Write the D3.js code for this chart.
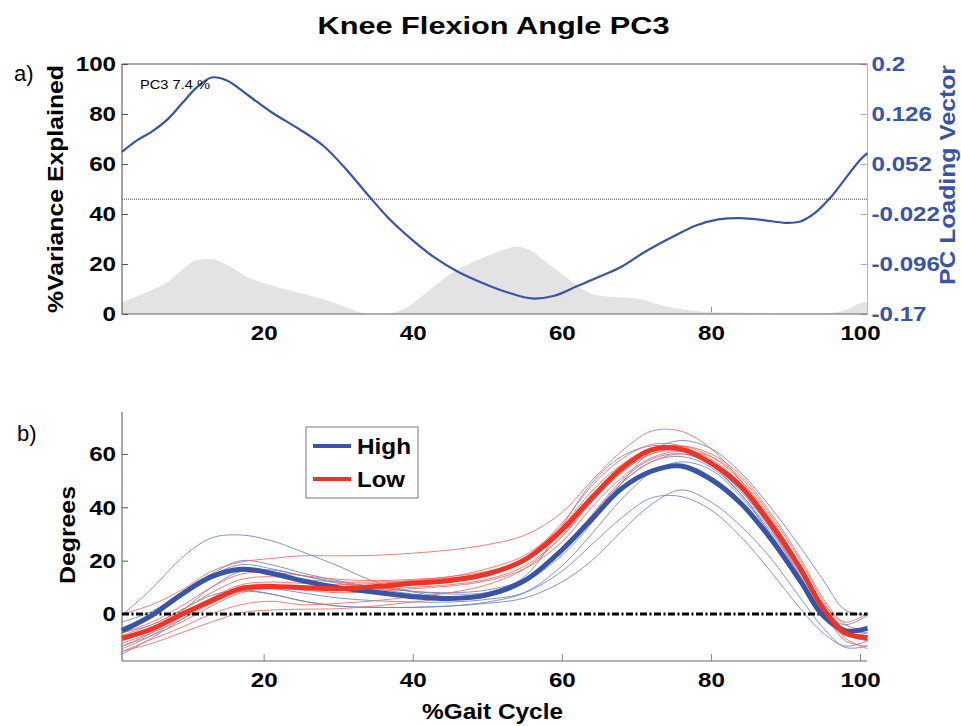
<!DOCTYPE html>
<html>
<head>
<meta charset="utf-8">
<script src="https://cdn.jsdelivr.net/npm/d3@7"></script>
<style>
  body { margin: 0; background: #fff; }
  svg { font-family: Helvetica, Arial, "Liberation Sans", sans-serif; }
  .tick text { font-weight: bold; font-size: 21px; }
</style>
</head>
<body>
<svg id="chart"></svg>
<script>
// ---- data: panel a) ----
const varX = [1, 3, 5, 7, 9, 11, 13, 15, 18, 21, 25, 29, 31, 33, 35, 37, 39, 42, 45, 49, 52, 54, 56, 58, 60, 62, 64, 66, 70, 74, 77, 80, 85, 90, 95, 98, 100, 101];
const varPct = [4.7, 7, 9.6, 12.5, 17.5, 21.5, 22, 19.8, 14.5, 11.5, 8.3, 5, 2.8, 0.6, 0, 0.3, 2.3, 9, 16, 22, 25.5, 27, 25, 20.4, 16, 11.5, 8, 7, 6.2, 3, 1.5, 0.7, 0.5, 0.3, 0.3, 1.5, 4.3, 5];

const loadX = [1, 3, 5, 7, 9, 11, 13, 15, 18, 21, 25, 28, 31, 34, 37, 40, 43, 46, 50, 53, 56, 59, 62, 65, 68, 71, 75, 78, 81, 84, 87, 90, 92, 94, 96, 98, 100, 101];
const loading = [0.070, 0.087, 0.100, 0.117, 0.141, 0.165, 0.180, 0.176, 0.153, 0.129, 0.102, 0.079, 0.045, 0.006, -0.031, -0.061, -0.087, -0.107, -0.127, -0.139, -0.147, -0.143, -0.129, -0.115, -0.100, -0.079, -0.055, -0.039, -0.030, -0.028, -0.031, -0.035, -0.033, -0.020, 0.002, 0.030, 0.058, 0.068];

const varTicks = [0, 20, 40, 60, 80, 100];
const loadTicks = [-0.17, -0.096, -0.022, 0.052, 0.126, 0.2];
const gaitTicks = [20, 40, 60, 80, 100];
const degTicks = [0, 20, 40, 60];

// ---- data: panel b) ----
const gaitX = [1, 5, 9, 13, 17, 21, 25, 30, 35, 40, 45, 50, 55, 60, 64, 68, 72, 76, 80, 84, 88, 92, 95, 98, 101];
const highMean = [-6.3, -0.5, 7.4, 14, 16.8, 15.3, 12.6, 9.9, 8.2, 6.5, 5.8, 7.2, 12.5, 24, 35.5, 47, 53.5, 55.5, 50.5, 41.5, 28.3, 12.3, -0.5, -6.2, -5.4];
const lowMean = [-9.1, -5.6, -0.1, 5, 9.6, 10.3, 9.9, 9.5, 10.3, 11.5, 12.6, 15, 20.3, 31.5, 43.5, 54.5, 61.5, 61.8, 56.5, 47.8, 33.8, 17, 2.3, -7, -8.9];
const highSubjects = [
  [-0.4, 9.5, 21, 28.5, 29.6, 27.5, 23.5, 18, 12, 8.3, 6.5, 8, 14, 33, 49, 59, 63, 62, 56, 45, 30, 13, 1, -4, -0.5],
  [-12, -7, 1, 10, 16, 16.5, 14.5, 12, 10, 8.5, 7.5, 8, 12, 22, 34, 49, 61, 65, 62, 53, 40, 25, 13, 1.5, -0.4],
  [-3, 1, 8, 14.5, 18.5, 17, 14.5, 11.5, 9.5, 7.5, 6.5, 7.5, 12, 24, 37, 50, 58, 60, 56, 46, 32, 15, 2, -6, -7],
  [-13, -8, -1, 6, 8.5, 7.5, 5, 3, 2.5, 2.5, 3, 4, 6, 12, 20, 31, 41, 46.5, 42, 33, 21, 6, -5, -12.5, -12],
  [-15, -9, -2, 5, 9, 9.5, 8, 6, 5, 4.5, 4.5, 5.5, 8, 16, 26, 36, 43.5, 44, 39, 29, 16, 2, -7, -12, -10],
  [-5, -0.5, 7.5, 15, 20, 18.5, 15.5, 12.5, 10, 8.5, 8, 9, 13, 23, 36, 49, 57, 59, 55, 45, 31, 14, 1, -6, -4.5],
  [-7, -4, 1.5, 7, 9, 7.5, 5, 3, 2.5, 2.5, 3, 4.5, 8, 18, 30, 43, 53, 57, 54, 44, 30, 13, 0, -8, -7]
];
const lowSubjects = [
  [0, 3.5, 9, 16, 19.5, 20.8, 21.8, 21.8, 22, 22.8, 24, 26, 29.5, 38, 50, 61, 68.5, 68.5, 62, 50, 35, 17, 4, -3, 0.3],
  [-7, -3, 3, 10, 15, 15.5, 14.5, 13, 12.5, 13, 14, 17, 22, 33, 46, 56, 62, 63, 59, 50, 36, 18, 3, -7, -9],
  [-11, -7, -2, 4, 8.5, 9.8, 9.5, 9, 9.3, 10, 11, 13, 18, 29, 42, 53, 60, 62, 58, 49, 35, 18, 3.5, -7.5, -10],
  [-14, -9.5, -5, 0, 3.5, 4.8, 3.5, 4, 5, 6.5, 8, 11, 17, 29, 42, 53, 60, 61, 57, 48, 34, 16, 1.5, -9, -13],
  [-14, -11, -7, -3, 0.5, 1.5, 1.8, 2, 3, 4.5, 6, 8, 13, 24, 37, 49, 57, 60, 57, 49, 35, 17, 2, -10, -12],
  [-10, -6, -1, 6, 11, 12, 11.5, 11, 11.5, 12.5, 14, 16, 20, 30, 43, 54, 61, 63, 60, 52, 38, 21, 6, -4, -6],
  [-8, -4, 1.5, 8, 13, 14, 13, 12, 12, 12.5, 13.5, 15.5, 21, 34, 48, 58, 63.5, 63, 57, 47, 32, 14, 0, -8, -8],
  [-12, -8, -3, 3, 8, 9.5, 9, 8, 8.5, 9.5, 10.5, 12.5, 17, 27, 40, 51, 58.5, 61, 59, 51, 37, 20, 5, -6, -10]
];
const groups = ["High", "Low"];

// ---- layout ----
const width = 961;
const height = 726;
const blue = "#3a54a5";
const red = "#ee3426";
const blueThin = "#6d82c2";
const redThin = "#f26a60";

// the source font runs wider than Helvetica, stretch texts a bit
const widen = (sel, k) => sel.each(function () {
  const w = this.getComputedTextLength();
  d3.select(this).attr("textLength", w * k).attr("lengthAdjust", "spacingAndGlyphs");
});
const label = (txt, size, len) => svg.append("text")
  .attr("text-anchor", "middle")
  .style("font-size", size + "px").style("font-weight", "bold")
  .attr("textLength", len).attr("lengthAdjust", "spacingAndGlyphs")
  .text(txt);

const svg = d3.select("#chart").attr("width", width).attr("height", height);

label("Knee Flexion Angle PC3", 23, 352).attr("x", 493.5).attr("y", 34);

// ================= panel a =================
const x = d3.scaleLinear().domain([1, 101]).range([122, 867.5]);
const yVar = d3.scaleLinear().domain([0, 100]).range([314, 64]);
const yLoad = d3.scaleLinear().domain([-0.17, 0.2]).range([314, 64]);

const axA = svg.append("g");
axA.append("g")
  .attr("transform", "translate(0,314)")
  .call(d3.axisBottom(x).tickValues(gaitTicks).tickSizeInner(-7).tickSizeOuter(0).tickPadding(11))
  .call(g => g.select(".domain").remove())
  .call(g => g.selectAll("line").attr("stroke", "#888"));
axA.append("g")
  .attr("transform", "translate(122,0)")
  .call(d3.axisLeft(yVar).tickValues(varTicks).tickSizeInner(-6).tickSizeOuter(0).tickPadding(6))
  .call(g => g.select(".domain").remove())
  .call(g => g.selectAll("line").attr("stroke", "#555"));
axA.append("g")
  .attr("transform", "translate(867.5,0)")
  .call(d3.axisRight(yLoad).tickValues(loadTicks).tickFormat(d => String(d)).tickSizeInner(-7).tickSizeOuter(0).tickPadding(4))
  .call(g => g.select(".domain").remove())
  .call(g => g.selectAll("line").attr("stroke", "#9fb0dc"))
  .call(g => g.selectAll("text").attr("fill", blue));

// variance explained area
svg.append("path")
  .datum(varX.map((d, i) => [d, varPct[i]]))
  .attr("fill", "#e3e3e3")
  .attr("d", d3.area().x(d => x(d[0])).y0(yVar(0)).y1(d => yVar(d[1])).curve(d3.curveMonotoneX));

// zero line of the loading vector
svg.append("line")
  .attr("x1", x(1)).attr("x2", x(101))
  .attr("y1", yLoad(0)).attr("y2", yLoad(0))
  .attr("stroke", "#444").attr("stroke-width", 1).attr("stroke-dasharray", "1,1");

// frame of panel a
svg.append("line").attr("x1", 122).attr("x2", 867.5).attr("y1", 64).attr("y2", 64).attr("stroke", "#555");
svg.append("line").attr("x1", 122).attr("x2", 867.5).attr("y1", 314).attr("y2", 314).attr("stroke", "#666");
svg.append("line").attr("x1", 122).attr("x2", 122).attr("y1", 64).attr("y2", 314).attr("stroke", "#444");
svg.append("line").attr("x1", 867.5).attr("x2", 867.5).attr("y1", 64).attr("y2", 314).attr("stroke", "#a9b7de");

// loading vector line
svg.append("path")
  .datum(loadX.map((d, i) => [d, loading[i]]))
  .attr("fill", "none")
  .attr("stroke", blue)
  .attr("stroke-width", 2.2)
  .attr("d", d3.line().x(d => x(d[0])).y(d => yLoad(d[1])).curve(d3.curveCatmullRom.alpha(0.5)));

svg.append("text")
  .attr("x", 140).attr("y", 89)
  .style("font-size", "12.5px")
  .attr("textLength", 70).attr("lengthAdjust", "spacingAndGlyphs")
  .text("PC3 7.4 %");

label("%Variance Explained", 22, 248).attr("transform", "translate(63,189) rotate(-90)");
label("PC Loading Vector", 22, 220).attr("transform", "translate(955,175) rotate(-90)").attr("fill", blue);

svg.append("text").attr("x", 14).attr("y", 81).style("font-size", "22px").text("a)");

// ================= panel b =================
const yDeg = d3.scaleLinear().domain([-17.6, 75.7]).range([661, 412]);
const line = d3.line().x((d, i) => x(gaitX[i])).y(d => yDeg(d)).curve(d3.curveCatmullRom.alpha(0.5));

svg.append("g")
  .attr("transform", "translate(0,661)")
  .call(d3.axisBottom(x).tickValues(gaitTicks).tickSizeInner(-7).tickSizeOuter(0).tickPadding(11))
  .call(g => g.select(".domain").remove())
  .call(g => g.selectAll("line").attr("stroke", "#888"));
svg.append("g")
  .attr("transform", "translate(122,0)")
  .call(d3.axisLeft(yDeg).tickValues(degTicks).tickSizeInner(-6).tickSizeOuter(0).tickPadding(6))
  .call(g => g.select(".domain").remove())
  .call(g => g.selectAll("line").attr("stroke", "#555"));

svg.selectAll(".tick text").call(widen, 1.15);

svg.append("line").attr("x1", 122).attr("x2", 867).attr("y1", 661).attr("y2", 661).attr("stroke", "#666");
svg.append("line").attr("x1", 122).attr("x2", 122).attr("y1", 412).attr("y2", 661).attr("stroke", "#555");

const curves = svg.append("g");
curves.selectAll(".high-sub")
  .data(highSubjects).enter().append("path")
  .attr("fill", "none").attr("stroke", blueThin).attr("stroke-width", 1).attr("opacity", 0.85)
  .attr("d", line);
curves.selectAll(".low-sub")
  .data(lowSubjects).enter().append("path")
  .attr("fill", "none").attr("stroke", redThin).attr("stroke-width", 1).attr("opacity", 0.85)
  .attr("d", line);

// zero reference
curves.append("line")
  .attr("x1", x(1)).attr("x2", x(101))
  .attr("y1", yDeg(0)).attr("y2", yDeg(0))
  .attr("stroke", "#000").attr("stroke-width", 3).attr("stroke-dasharray", "7,2.5,2,2.5");

curves.append("path").datum(highMean)
  .attr("fill", "none").attr("stroke", blue).attr("stroke-width", 5).attr("d", line);
curves.append("path").datum(lowMean)
  .attr("fill", "none").attr("stroke", red).attr("stroke-width", 5).attr("d", line);

// legend
const legend = svg.append("g").attr("transform", "translate(306,427)");
legend.append("rect")
  .attr("width", 112).attr("height", 71)
  .attr("fill", "#fff").attr("stroke", "#777");
legend.selectAll("line")
  .data(groups).enter().append("line")
  .attr("x1", 7).attr("x2", 45)
  .attr("y1", (d, i) => 19 + i * 33).attr("y2", (d, i) => 19 + i * 33)
  .attr("stroke", (d, i) => i === 0 ? blue : red)
  .attr("stroke-width", 4);
legend.selectAll("text")
  .data(groups).enter().append("text")
  .attr("x", 51).attr("y", (d, i) => 27 + i * 33)
  .style("font-size", "22px").style("font-weight", "bold")
  .attr("textLength", (d, i) => i === 0 ? 54 : 48).attr("lengthAdjust", "spacingAndGlyphs")
  .text(d => d);

label("Degrees", 22, 98).attr("transform", "translate(75,535) rotate(-90)");
label("%Gait Cycle", 22, 141).attr("x", 492.5).attr("y", 719);

svg.append("text").attr("x", 17).attr("y", 441).style("font-size", "22px").text("b)");
</script>
</body>
</html>
